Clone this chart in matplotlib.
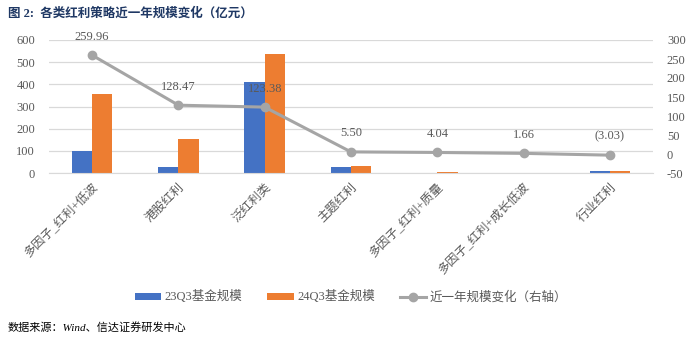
import numpy as np
import matplotlib
matplotlib.use("Agg")
import matplotlib.pyplot as plt

plt.rcParams['font.family'] = ['Liberation Serif', 'Noto Sans CJK SC', 'DejaVu Sans']
plt.rcParams['axes.unicode_minus'] = False

# fund size per dividend strategy (100m CNY)
categories = ["多因子_红利+低波", "港股红利", "泛红利类", "主题红利",
              "多因子_红利+质量", "多因子_红利+成长低波", "行业红利"]
size_23q3 = [97.0, 27.0, 412.0, 25.0, 1.0, 0.3, 10.0]
size_24q3 = [356.96, 155.47, 535.38, 30.5, 5.04, 1.96, 6.97]
yoy_change = [259.96, 128.47, 123.38, 5.50, 4.04, 1.66, -3.03]

blue = "#4472C4"
orange = "#ED7D31"
gray = "#A5A5A5"
text_color = "#595959"

fig = plt.figure(figsize=(7.0, 3.42), dpi=100)
ax = fig.add_axes([49 / 700, 1 - 173 / 342, 604 / 700, 133 / 342])
ax2 = ax.twinx()

x = np.arange(len(categories))
w = 0.235
ax.bar(x - w / 2, size_23q3, width=w, color=blue, label="23Q3基金规模", zorder=2)
ax.bar(x + w / 2, size_24q3, width=w, color=orange, label="24Q3基金规模", zorder=2)

ax.set_ylim(0, 600)
ax.set_yticks(range(0, 601, 100))
ax.set_xlim(-0.5, len(categories) - 0.5)
ax.grid(axis="y", color="#D9D9D9", linewidth=0.9, zorder=0)
ax.set_axisbelow(True)
for s in ["top", "left", "right"]:
    ax.spines[s].set_visible(False)
ax.spines["bottom"].set_color("#D9D9D9")
ax.tick_params(axis="both", length=0, labelsize=9, colors=text_color)
ax.tick_params(axis="y", pad=10)
ax.set_xticks(x)
ax.set_xticklabels(categories, rotation=45, ha="right", rotation_mode="anchor",
                   fontsize=8.8, color=text_color)
ax.tick_params(axis="x", pad=6)

# yearly change on right axis
ax2.plot(x, yoy_change, color=gray, linewidth=2.2, marker="o", markersize=6,
         label="近一年规模变化（右轴）", zorder=3)
for xi, v in zip(x, yoy_change):
    lbl = f"({abs(v):.2f})" if v < 0 else f"{v:.2f}"
    ax2.annotate(lbl, (xi, v), xytext=(0, 9), textcoords="offset points",
                 ha="center", va="bottom", fontsize=9, color=text_color)
ax2.set_ylim(-50, 300)
ax2.set_yticks(range(-50, 301, 50))
for s in ["top", "left", "right", "bottom"]:
    ax2.spines[s].set_visible(False)
ax2.tick_params(axis="y", length=0, labelsize=9, colors=text_color, pad=10)

h1, l1 = ax.get_legend_handles_labels()
h2, l2 = ax2.get_legend_handles_labels()
fig.legend(h1 + h2, l1 + l2, loc="center", bbox_to_anchor=(351 / 700, 1 - 297 / 342),
           ncol=3, frameon=False, fontsize=9, handlelength=2.1, handleheight=0.5,
           handletextpad=0.3, columnspacing=2.0, labelcolor=text_color)

fig.text(8 / 700, 1 - 13 / 342, "图 2:  各类红利策略近一年规模变化（亿元）",
         fontsize=9, fontweight="bold", color="#1F3864", va="center", ha="left")
fig.text(8 / 700, 1 - 327 / 342, "数据来源：Wind、信达证券研发中心",
         fontsize=8, style="italic", color="#000000", va="center", ha="left")

fig.savefig("out.png", dpi=100)
